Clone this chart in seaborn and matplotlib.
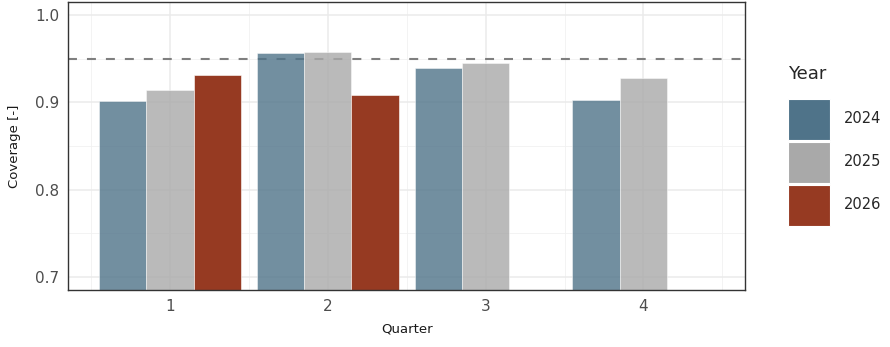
import pandas as pd
import numpy as np
import matplotlib.pyplot as plt
import seaborn as sns
from matplotlib.patches import Patch
from matplotlib.ticker import MultipleLocator

# values
quarters = [1, 2, 3, 4]
cov_2024 = [0.902, 0.957, 0.940, 0.903]
cov_2025 = [0.914, 0.958, 0.945, 0.928]
cov_2026 = [0.931, 0.908, None, None]
years = ["2024", "2025", "2026"]
year_colors = ["#4F7389", "#A9A9A9", "#963A22"]
year_alpha = [0.8, 0.8, 1.0]
target = 0.95

rows = []
for yr, vals in zip(years, [cov_2024, cov_2025, cov_2026]):
    for q, v in zip(quarters, vals):
        if v is not None:
            rows.append({"Quarter": str(q), "Year": yr, "Coverage": v})
df = pd.DataFrame(rows)

sns.set_style("white")
plt.rcParams['font.family'] = ['DejaVu Sans']

fig = plt.figure(figsize=(8.9, 3.47), dpi=100)
ax = fig.add_axes([0.0764, 0.164, 0.761, 0.830])

ax.axhline(target, color="#7F7F7F", lw=1.5, ls=(0, (4.3, 4.8)), zorder=1)

sns.barplot(data=df, x="Quarter", y="Coverage", hue="Year",
            order=[str(q) for q in quarters], hue_order=years,
            palette=year_colors, saturation=1, width=0.9, edgecolor="white",
            linewidth=0.4, ax=ax, zorder=2, legend=False)

# lighter fill for 2024 / 2025
for cont, a in zip(ax.containers, year_alpha):
    for bar in cont:
        bar.set_alpha(a)

ax.set_xlim(-0.645, 3.645)
ax.set_ylim(0.685, 1.015)
ax.yaxis.set_minor_locator(MultipleLocator(0.05))
ax.set_xticks([0, 1, 2, 3], labels=[str(q) for q in quarters])
ax.set_xticks([-0.5, 0.5, 1.5, 2.5, 3.5], minor=True)
ax.set_yticks([0.7, 0.8, 0.9, 1.0], labels=["0.7", "0.8", "0.9", "1.0"])

ax.grid(True, which="major", color="#EBEBEB", lw=1.1, zorder=0)
ax.grid(True, which="minor", color="#F1F1F1", lw=0.6, zorder=0)
ax.set_axisbelow(True)

for s in ax.spines.values():
    s.set_color("#333333")
    s.set_linewidth(1.0)

ax.tick_params(axis="both", which="major", length=3.5, width=1.0,
               color="#333333", labelcolor="#4D4D4D", labelsize=11, pad=3)
ax.tick_params(axis="both", which="minor", length=0)

ax.set_xlabel("Quarter", fontsize=9.5, color="#1A1A1A", labelpad=6)
ax.set_ylabel("Coverage [-]", fontsize=9.5, color="#1A1A1A", labelpad=10)

handles = [Patch(facecolor=c, edgecolor="white", lw=0.8) for c in year_colors]
leg = fig.legend(handles, years, title="Year", loc="upper left",
                 bbox_to_anchor=(0.879, 0.83), frameon=False,
                 fontsize=10.5, title_fontsize=13, handlelength=2.85,
                 handleheight=3.85, labelspacing=0.2, handletextpad=1.0,
                 borderaxespad=0)
leg._legend_box.align = "left"
leg._legend_box.sep = 12

fig.savefig("out.png", dpi=100)
